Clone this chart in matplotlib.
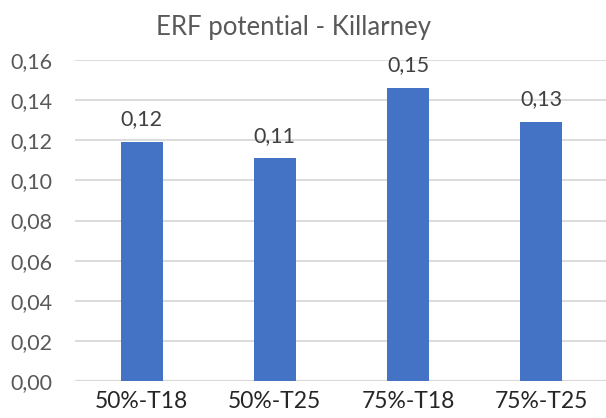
import matplotlib
matplotlib.use("Agg")
import matplotlib.pyplot as plt

categories = ["50%-T18", "50%-T25", "75%-T18", "75%-T25"]
values = [0.119, 0.111, 0.146, 0.129]
yticks = [0.00, 0.02, 0.04, 0.06, 0.08, 0.10, 0.12, 0.14, 0.16]

BAR = "#4472C4"
TXT = "#595959"
DARK = "#262626"
GRID = "#D9D9D9"

plt.rcParams["font.family"] = ["Lato", "DejaVu Sans"]

fig = plt.figure(figsize=(6.06, 4.18), dpi=100)
# plot area in pixels: x 75..608, y 60..381
ax = fig.add_axes([75 / 606, 1 - 381 / 418, 533 / 606, 321 / 418])

x = list(range(len(categories)))
ax.bar(x, values, width=0.315, color=BAR, zorder=3)

for xi, v in zip(x, values):
    ax.annotate(f"{v:.2f}".replace(".", ","), (xi, v), xytext=(0, 12),
                textcoords="offset points", ha="center", va="baseline",
                fontsize=15.5, color="#404040")

ax.set_xlim(-0.5, 3.5)
ax.set_ylim(0, 0.16)
ax.set_yticks(yticks)
ax.set_yticklabels([f"{t:.2f}".replace(".", ",") for t in yticks])
ax.set_xticks(x)
ax.set_xticklabels(categories)
ax.tick_params(axis="both", length=0)
ax.tick_params(axis="y", labelsize=15.5, colors=TXT, pad=16)
ax.tick_params(axis="x", labelsize=16.5, colors=DARK, pad=7)
ax.grid(axis="y", color=GRID, lw=1.3, zorder=0)
for s in ax.spines.values():
    s.set_visible(False)
ax.axhline(0, color=GRID, lw=1.6, zorder=2)

fig.text(293 / 606, 1 - 35 / 418, "ERF potential - Killarney", ha="center",
         va="baseline", fontsize=18.5, color=TXT)

fig.savefig("out.png", dpi=100)
